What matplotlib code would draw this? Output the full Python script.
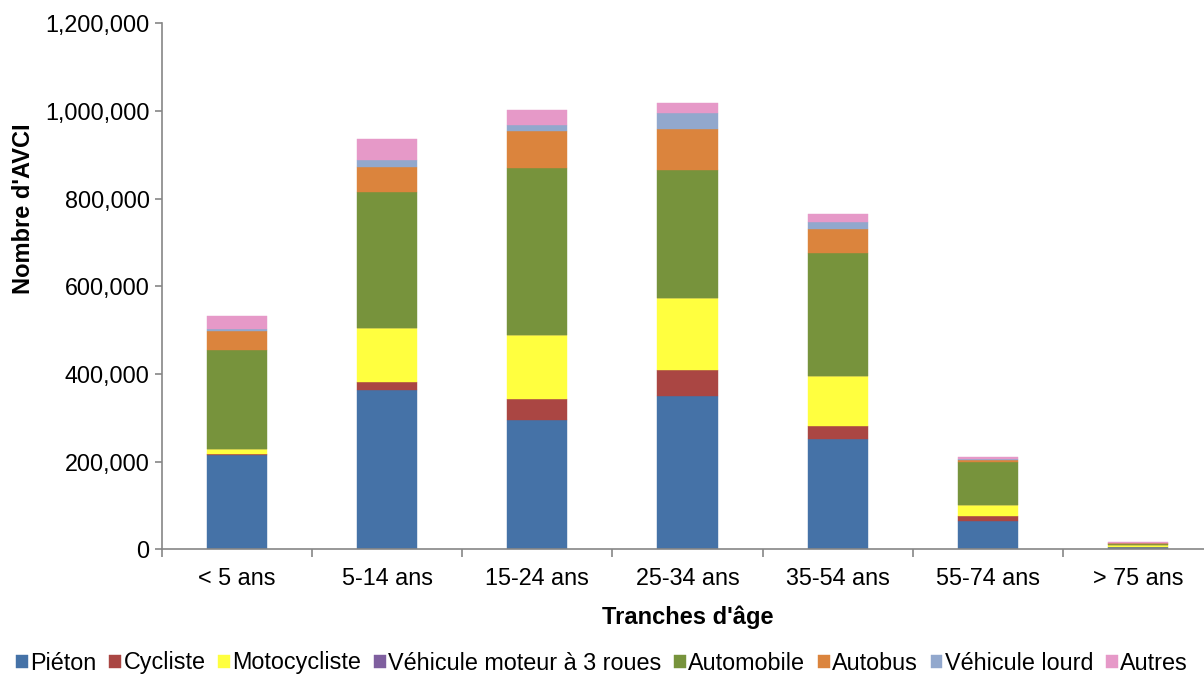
import matplotlib
matplotlib.use("Agg")
import matplotlib.pyplot as plt
import numpy as np

plt.rcParams['font.family'] = ['Liberation Sans', 'DejaVu Sans']

age_groups = ["< 5 ans", "5-14 ans", "15-24 ans", "25-34 ans", "35-54 ans", "55-74 ans", "> 75 ans"]

series_names = ["Piéton", "Cycliste", "Motocycliste", "Véhicule moteur à 3 roues",
                "Automobile", "Autobus", "Véhicule lourd", "Autres"]

pieton       = [215000, 363000, 295000, 349000, 251000, 64000, 5000]
cycliste     = [2000, 19000, 49000, 61000, 30000, 11000, 1000]
motocycliste = [11000, 122000, 146000, 163000, 114000, 27000, 3000]
trois_roues  = [0, 0, 0, 0, 0, 0, 0]
automobile   = [227000, 312000, 381000, 292000, 280000, 98000, 4000]
autobus      = [42000, 56000, 83000, 95000, 55000, 3000, 1000]
vehicule_lourd = [5500, 16000, 15000, 36000, 16000, 2000, 1000]
autres       = [30000, 47000, 33000, 23000, 20000, 6000, 2000]

series = [pieton, cycliste, motocycliste, trois_roues, automobile, autobus, vehicule_lourd, autres]
colors = ["#4572A7", "#AA4643", "#FFFF3F", "#7F5F9F", "#77933C", "#DB843D", "#92A8CD", "#E699C8"]

fig = plt.figure(figsize=(12.04, 6.75), dpi=100)
ax = fig.add_axes([162 / 1204, 125.7 / 675, 1051 / 1204, 526 / 675])

x = np.arange(len(age_groups))
bottom = np.zeros(len(age_groups))
handles = []
for name, vals, col in zip(series_names, series, colors):
    vals = np.array(vals, dtype=float)
    b = ax.bar(x, vals, width=0.4, bottom=bottom, color=col, label=name,
               edgecolor=col, linewidth=0.3, zorder=2)
    handles.append(b)
    bottom += vals

ax.set_xlim(-0.5, len(age_groups) - 0.5)
ax.set_ylim(0, 1200000)
ax.set_yticks(np.arange(0, 1200001, 200000))
ax.yaxis.set_major_formatter(matplotlib.ticker.FuncFormatter(lambda v, p: f"{int(v):,}"))

ax.set_xticks(x)
ax.set_xticklabels(age_groups)
ax.set_xticks(np.arange(-0.5, len(age_groups), 1), minor=True)
ax.tick_params(axis='x', which='major', length=0, pad=13, labelsize=16.8)
ax.tick_params(axis='x', which='minor', length=6, width=1.2, color='#868686', direction='out')
ax.tick_params(axis='y', length=5, width=1.2, color='#868686', direction='out', labelsize=16.8, pad=4)

for side in ['top', 'right']:
    ax.spines[side].set_visible(False)
for side in ['left', 'bottom']:
    ax.spines[side].set_color('#868686')
    ax.spines[side].set_linewidth(1.2)

ax.set_ylabel("Nombre d'AVCI", fontsize=17, fontweight='bold')
ax.yaxis.set_label_coords((24 - 162) / 1051, (549 - 208) / 526)
ax.set_xlabel("Tranches d'âge", fontsize=17, fontweight='bold')
ax.xaxis.set_label_coords((688 - 162) / 1051, -(617 - 549) / 526)
ax.xaxis.label.set_va('center')
ax.yaxis.label.set_va('center')

fig.legend(handles=handles, labels=series_names, loc='center', bbox_to_anchor=(0.5, 1 - 663 / 675),
           ncol=8, frameon=False, fontsize=16.8, handlelength=0.5, handleheight=0.5,
           handletextpad=0.1, columnspacing=0.55, borderaxespad=0)

fig.savefig("out.png", dpi=100)
